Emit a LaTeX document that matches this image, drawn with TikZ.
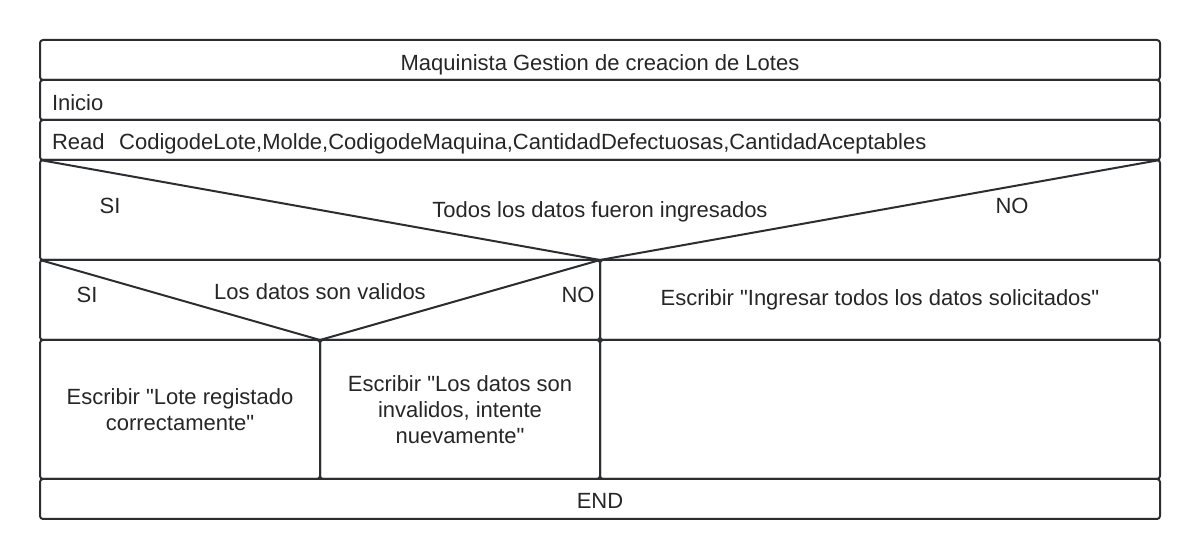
\documentclass[tikz,border=0pt]{standalone}
\usepackage{fontspec}
\setmainfont{Liberation Sans}
\usetikzlibrary{positioning}
\definecolor{nsline}{HTML}{2B2D31}
\definecolor{nstext}{HTML}{262626}
\newcommand{\qd}{\textquotedbl}

\begin{document}
\begin{tikzpicture}[x=0.5pt, y=-0.5pt, node distance=0pt,
        every node/.style={font=\fontsize{11}{13}\selectfont, text=nstext},
        box/.style={draw=nsline, line width=1pt, rounded corners=1.5pt, inner sep=0pt, outer sep=0pt, minimum width=#1, align=center},
        lowtext/.style={text height=10.4pt, text depth=0pt},
        lbl/.style={text height=7.9pt, text depth=0pt},
        rowbox/.style={box=560pt, minimum height=20pt, text width=548pt, inner xsep=6pt, align=left, lowtext},
        nsedge/.style={draw=nsline, line width=1pt}]
        \useasboundingbox (0,0) rectangle (1200,560);
        \node[box=560pt, minimum height=20pt, anchor=north west, lowtext] (title) at (40,40) {Maquinista Gestion de creacion de Lotes};
        \node[rowbox] (inicio) [below=of title] {Inicio};
        \node[rowbox, text height=9.9pt] (read) [below=of inicio] {Read\ \ CodigodeLote,Molde,CodigodeMaquina,CantidadDefectuosas,CantidadAceptables};
        \node[box=560pt, minimum height=50pt] (cond) [below=of read] {};
        \node[box=280pt, minimum height=40pt] (valid) [below=of cond.south west, anchor=north west] {};
        \node[box=280pt, minimum height=40pt, text height=5.4pt, text depth=0pt] (ingresar) [below=of cond.south east, anchor=north east] {Escribir \qd Ingresar todos los datos solicitados\qd};
        \node[box=140pt, minimum height=69.5pt] (lote) [below=of valid.south west, anchor=north west] {Escribir \qd Lote registado\\correctamente\qd};
        \node[box=140pt, minimum height=69.5pt] (invalidos) [right=of lote] {Escribir \qd Los datos son\\invalidos, intente\\nuevamente\qd};
        \node[box=280pt, minimum height=69.5pt] (vacio) [right=of invalidos] {};
        \node[box=560pt, minimum height=20pt, text height=9.6pt, text depth=0pt] (fin) [below=of lote.south west, anchor=north west] {END};
        % decisiones
        \draw[nsedge] (cond.north west) -- (cond.south) -- (cond.north east);
        \draw[nsedge] (valid.north west) -- (valid.south) -- (valid.north east);
        \node[lbl] (todos) at (cond.center) {Todos los datos fueron ingresados};
        \node[lbl] (si1) at ([xshift=35pt, yshift=2.25pt]cond.west) {SI};
        \node[lbl] (no1) at ([xshift=-74pt, yshift=2.25pt]cond.east) {NO};
        \node[lbl] (datos) at ([yshift=4.25pt]valid.center) {Los datos son validos};
        \node[lbl] (si2) at ([xshift=23.5pt, yshift=2.5pt]valid.west) {SI};
        \node[lbl] (no2) at ([xshift=-11pt, yshift=2.5pt]valid.east) {NO};
    \end{tikzpicture}
\end{document}
